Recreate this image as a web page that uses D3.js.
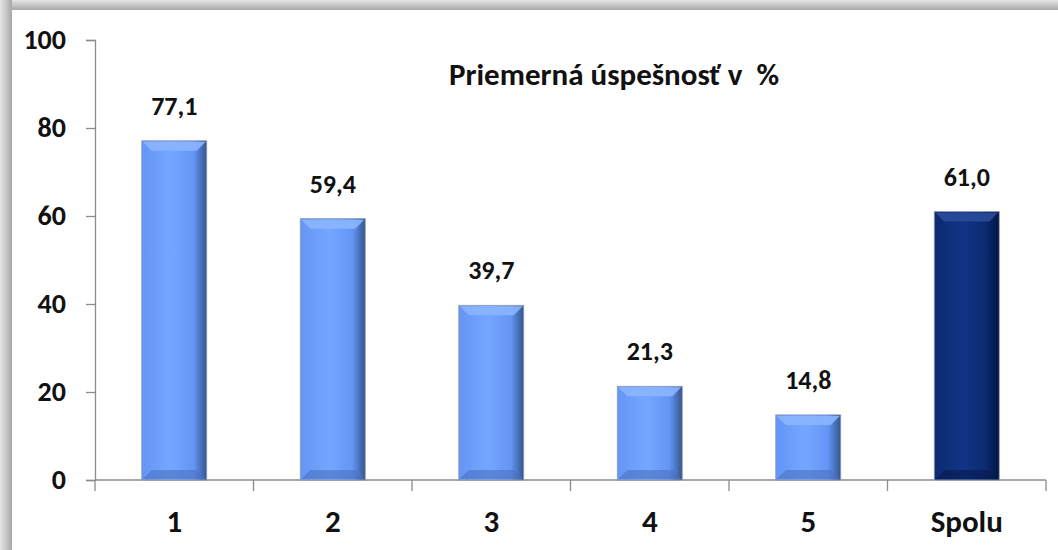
<!DOCTYPE html>
<html>
<head>
<meta charset="utf-8">
<script src="https://cdn.jsdelivr.net/npm/d3@7"></script>
<style>
  html, body { margin: 0; padding: 0; background: #fff; }
  svg text { font-family: Carlito, Lato, "Open Sans", sans-serif; font-weight: bold; fill: #111; }
</style>
</head>
<body>
<svg id="chart"></svg>
<script>
// data
var categories = ["1", "2", "3", "4", "5", "Spolu"];
var values = [77.1, 59.4, 39.7, 21.3, 14.8, 61.0];
var yTicks = [0, 20, 40, 60, 80, 100];
var title = "Priemerná úspešnosť v  %";

var width = 1058, height = 550;
var margin = { left: 95, right: 12, top: 40, bottom: 70 };

var svg = d3.select("#chart")
    .attr("width", width)
    .attr("height", height);

var defs = svg.append("defs");

// frame shadow (gray border on top and left)
var gTop = defs.append("linearGradient").attr("id", "frameTop")
    .attr("x1", 0).attr("y1", 0).attr("x2", 0).attr("y2", 1);
gTop.append("stop").attr("offset", "0%").attr("stop-color", "#e6e6e6");
gTop.append("stop").attr("offset", "100%").attr("stop-color", "#a8a8a8");
var gLeft = defs.append("linearGradient").attr("id", "frameLeft")
    .attr("x1", 0).attr("y1", 0).attr("x2", 1).attr("y2", 0);
gLeft.append("stop").attr("offset", "0%").attr("stop-color", "#e6e6e6");
gLeft.append("stop").attr("offset", "100%").attr("stop-color", "#a8a8a8");

svg.append("rect").attr("x", 0).attr("y", 0).attr("width", width).attr("height", 10)
    .attr("fill", "url(#frameTop)");
svg.append("rect").attr("x", 0).attr("y", 0).attr("width", 12).attr("height", height)
    .attr("fill", "url(#frameLeft)");
svg.append("rect").attr("x", 12).attr("y", 10).attr("width", width - 12).attr("height", height - 10)
    .attr("fill", "#fff");

// bar gradients
function barGradient(id, light, main, dark) {
  var g = defs.append("linearGradient").attr("id", id)
      .attr("x1", 0).attr("y1", 0).attr("x2", 1).attr("y2", 0);
  g.append("stop").attr("offset", "0%").attr("stop-color", main);
  g.append("stop").attr("offset", "45%").attr("stop-color", light);
  g.append("stop").attr("offset", "80%").attr("stop-color", main);
  g.append("stop").attr("offset", "100%").attr("stop-color", dark);
}
barGradient("barBlue", "#75a6ff", "#6595f5", "#34558f");
barGradient("barNavy", "#123485", "#0b2a70", "#041540");

var colors = categories.map(function(c) {
  return c === "Spolu"
    ? { fill: "url(#barNavy)", top: "#2a4a9a", bottom: "#06194d" }
    : { fill: "url(#barBlue)", top: "#8ab5ff", bottom: "#4a72c0" };
});

var x = d3.scaleBand()
    .domain(categories)
    .range([margin.left, width - margin.right]);

var y = d3.scaleLinear()
    .domain([0, 100])
    .range([height - margin.bottom, margin.top]);

// axes
var yAxis = svg.append("g")
    .attr("transform", "translate(" + margin.left + ",0)")
    .call(d3.axisLeft(y).tickValues(yTicks).tickSize(9).tickPadding(20));

var xAxis = svg.append("g")
    .attr("transform", "translate(0," + y(0) + ")")
    .call(d3.axisBottom(x).tickSize(0).tickPadding(30));

[yAxis, xAxis].forEach(function(ax) {
  ax.select(".domain").attr("stroke", "#8c8c8c").attr("stroke-width", 1.3);
  ax.selectAll(".tick line").attr("stroke", "#8c8c8c").attr("stroke-width", 1.3);
  ax.selectAll(".tick text").attr("fill", "#111")
      .style("font-family", "Carlito, Lato, 'Open Sans', sans-serif")
      .style("font-weight", "bold");
});
yAxis.selectAll(".tick text").style("font-size", "28px");
xAxis.selectAll(".tick text").style("font-size", "31px");
xAxis.select(".domain").attr("d", "M" + margin.left + ",0H" + (width - margin.right));

// x tick marks between categories
var bounds = categories.map(function(c) { return x(c); }).concat([width - margin.right]);
svg.append("g").selectAll("line")
    .data(bounds)
  .join("line")
    .attr("x1", function(d) { return d; })
    .attr("x2", function(d) { return d; })
    .attr("y1", y(0))
    .attr("y2", y(0) + 11)
    .attr("stroke", "#8c8c8c")
    .attr("stroke-width", 1.3);

// bars
var barW = x.bandwidth() * 0.41;
var bevel = 10;

var bar = svg.append("g").selectAll("g")
    .data(values)
  .join("g")
    .attr("transform", function(d, i) {
      return "translate(" + (x(categories[i]) + (x.bandwidth() - barW) / 2) + "," + y(d) + ")";
    });

bar.append("rect")
    .attr("width", barW)
    .attr("height", function(d) { return y(0) - y(d); })
    .attr("fill", function(d, i) { return colors[i].fill; })
    .attr("stroke", "#8f9bb0")
    .attr("stroke-width", 0.8);

// top bevel
bar.append("path")
    .attr("d", "M1,1L" + (barW - 1) + ",1L" + (barW - bevel) + "," + bevel + "L" + bevel + "," + bevel + "Z")
    .attr("fill", function(d, i) { return colors[i].top; })
    .attr("opacity", 0.9);

// bottom bevel
bar.append("path")
    .attr("d", function(d) {
      var h = y(0) - y(d);
      return "M1," + (h - 1) + "L" + (barW - 1) + "," + (h - 1) + "L" + (barW - bevel) + "," + (h - bevel) +
        "L" + bevel + "," + (h - bevel) + "Z";
    })
    .attr("fill", function(d, i) { return colors[i].bottom; })
    .attr("opacity", 0.6);

// value labels
svg.append("g").selectAll("text")
    .data(values)
  .join("text")
    .attr("x", function(d, i) { return x(categories[i]) + x.bandwidth() / 2; })
    .attr("y", function(d) { return y(d) - 26; })
    .attr("text-anchor", "middle")
    .style("font-size", "26px")
    .text(function(d) { return d.toFixed(1).replace(".", ","); });

// title
svg.append("text")
    .attr("x", 614)
    .attr("y", 85)
    .attr("text-anchor", "middle")
    .style("font-size", "31px")
    .style("white-space", "pre")
    .text(title);
</script>
</body>
</html>
